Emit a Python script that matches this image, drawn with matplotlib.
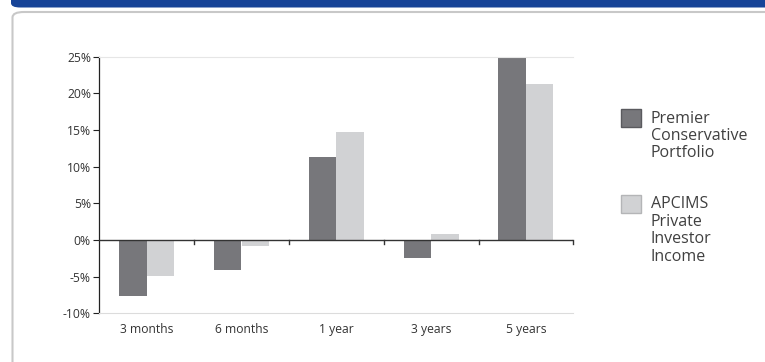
import matplotlib
matplotlib.use("Agg")
import matplotlib.pyplot as plt
import numpy as np
from matplotlib.patches import FancyBboxPatch, Rectangle

categories = ["3 months", "6 months", "1 year", "3 years", "5 years"]
series_names = ["Premier\nConservative\nPortfolio", "APCIMS\nPrivate\nInvestor\nIncome"]
premier = [-7.7, -4.1, 11.3, -2.5, 24.9]
apcims = [-4.9, -0.8, 14.7, 0.8, 21.3]
yticks = [-10, -5, 0, 5, 10, 15, 20, 25]
ytick_labels = ["-10%", "-5%", "0%", "5%", "10%", "15%", "20%", "25%"]

dark = "#77777b"
light = "#d1d2d4"
font = "Open Sans"

fig = plt.figure(figsize=(7.65, 3.62), dpi=100)
W, H = 765, 362

# header bar
fig.patches.append(FancyBboxPatch((11 / W, 1 - 7.5 / H), 780 / W, 20 / H,
                                  boxstyle="round,pad=0,rounding_size=0.012",
                                  transform=fig.transFigure, facecolor="#174498",
                                  edgecolor="none", zorder=0))
# panel border
fig.patches.append(FancyBboxPatch((12.5 / W, -20 / H), 780 / W, (350 + 20) / H,
                                  boxstyle="round,pad=0,rounding_size=0.015",
                                  transform=fig.transFigure, facecolor="white",
                                  edgecolor="#c8c8c8", linewidth=1.5, zorder=0))

ax = fig.add_axes([99.3 / W, 1 - 313.3 / H, 474 / W, 256.6 / H])
ax.set_zorder(2)
ax.patch.set_alpha(0)
x = np.arange(len(categories))
bw = 0.29
ax.bar(x - bw / 2, premier, bw, color=dark, zorder=2)
ax.bar(x + bw / 2, apcims, bw, color=light, zorder=2)
ax.set_xlim(-0.5, len(categories) - 0.5)
ax.set_ylim(-10, 25)

ax.set_yticks(yticks)
ax.set_yticklabels(ytick_labels, fontsize=8.7, family=font, color="#333333")
ax.tick_params(axis="y", length=4, width=0.8, color="#222222", pad=2)

ax.set_xticks(x)
ax.set_xticklabels(categories, fontsize=8.7, family=font, color="#333333")
ax.tick_params(axis="x", length=0, pad=7)

# zero line with ticks at category boundaries
ax.axhline(0, color="#333333", linewidth=1.0, zorder=3)
for b in np.arange(0.5, len(categories), 1.0):
    ax.plot([b, b], [0, -0.6], color="#333333", linewidth=1.0, zorder=3, clip_on=False)

ax.spines["right"].set_visible(False)
ax.spines["left"].set_color("#222222")
ax.spines["left"].set_linewidth(0.9)
ax.spines["top"].set_color("#e6e6e6")
ax.spines["bottom"].set_color("#dcdcdc")

# legend
colors = [dark, light]
ys = [109, 195]
for name, c, y0 in zip(series_names, colors, ys):
    edge = "#5a5a5e" if c == dark else "#b4b5b7"
    fig.patches.append(Rectangle((621 / W, 1 - (y0 + 18) / H), 20 / W, 18 / H,
                                 transform=fig.transFigure, facecolor=c,
                                 edgecolor=edge, linewidth=1.0, zorder=3))
    fig.text(651 / W, 1 - (y0 + 1.5) / H, name, fontsize=11.5, family=font,
             color="#404040", va="top", ha="left", linespacing=1.12)

fig.savefig("out.png", dpi=100)
